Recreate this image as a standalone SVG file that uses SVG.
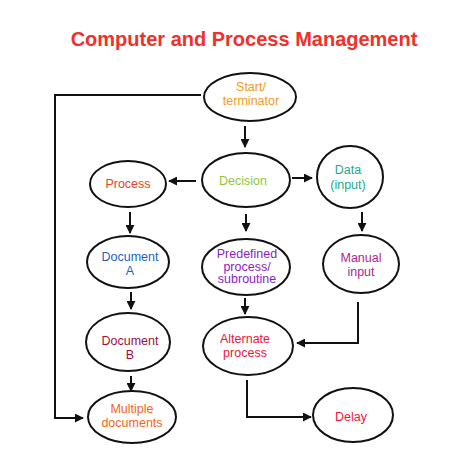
<svg xmlns="http://www.w3.org/2000/svg" width="474" height="474" viewBox="0 0 474 474">
<style>
.n{fill:#fff;stroke:#111;stroke-width:2}
.t{font-family:"Liberation Sans",Arial,sans-serif;font-size:12.5px;text-anchor:middle}
.c{fill:none;stroke:#111;stroke-width:2}
</style>
<defs>
<marker id="a" viewBox="0 0 10 10" refX="9" refY="5" markerWidth="4.5" markerHeight="4.5" orient="auto" markerUnits="strokeWidth">
<path d="M0,0 L10,5 L0,10 z" fill="#111"/>
</marker>
</defs>
<rect width="474" height="474" fill="#fff"/>
<text x="244" y="46" font-family="'Liberation Sans',Arial,sans-serif" font-size="20" font-weight="bold" fill="#f0302a" text-anchor="middle">Computer and Process Management</text>
<g id="connectors">
<path class="c" d="M201,95 H55 V418 H83" marker-end="url(#a)"/>
<path class="c" d="M245,126 V147" marker-end="url(#a)"/>
<path class="c" d="M196,181 H169" marker-end="url(#a)"/>
<path class="c" d="M292,178 H312" marker-end="url(#a)"/>
<path class="c" d="M246,214 V231" marker-end="url(#a)"/>
<path class="c" d="M362,212 V231" marker-end="url(#a)"/>
<path class="c" d="M130,212 V233" marker-end="url(#a)"/>
<path class="c" d="M131,292 V309" marker-end="url(#a)"/>
<path class="c" d="M131,376 V391" marker-end="url(#a)"/>
<path class="c" d="M245,298 V314" marker-end="url(#a)"/>
<path class="c" d="M358,302 V343 H297" marker-end="url(#a)"/>
<path class="c" d="M247,380 V417 H311" marker-end="url(#a)"/>
</g>
<g id="start"><ellipse class="n" cx="250" cy="97" rx="46" ry="24"/><text class="t" x="251" y="91" fill="#f39a1b">Start/</text><text class="t" x="251" y="105" fill="#f39a1b">terminator</text></g>
<g id="decision"><ellipse class="n" cx="246" cy="180" rx="44" ry="27"/><text class="t" x="243" y="185" fill="#8cc63f">Decision</text></g>
<g id="process"><ellipse class="n" cx="128" cy="184" rx="38" ry="23"/><text class="t" x="128" y="188" fill="#e8421f">Process</text></g>
<g id="data"><ellipse class="n" cx="350" cy="177" rx="33" ry="31"/><text class="t" x="348" y="174" fill="#1aaa8c">Data</text><text class="t" x="348" y="189" fill="#1aaa8c">(input)</text></g>
<g id="docA"><ellipse class="n" cx="128" cy="262" rx="41" ry="26"/><text class="t" x="130" y="261" fill="#1f5fbf">Document</text><text class="t" x="130" y="275" fill="#1f5fbf">A</text></g>
<g id="predef"><ellipse class="n" cx="246" cy="267" rx="44" ry="28"/><text class="t" x="247" y="258" fill="#8a1ec0" font-size="11">Predefined</text><text class="t" x="247" y="270.5" fill="#8a1ec0" font-size="11">process/</text><text class="t" x="247" y="283" fill="#8a1ec0" font-size="11">subroutine</text></g>
<g id="manual"><ellipse class="n" cx="361" cy="264" rx="38" ry="29"/><text class="t" x="361" y="262" fill="#b01e8c">Manual</text><text class="t" x="361" y="276" fill="#b01e8c">input</text></g>
<g id="docB"><ellipse class="n" cx="128" cy="342" rx="42" ry="29"/><text class="t" x="130" y="345" fill="#9b1040">Document</text><text class="t" x="130" y="359" fill="#9b1040">B</text></g>
<g id="alternate"><ellipse class="n" cx="248" cy="346" rx="45" ry="29"/><text class="t" x="245" y="343" fill="#e8163c">Alternate</text><text class="t" x="245" y="357" fill="#e8163c">process</text></g>
<g id="multiple"><ellipse class="n" cx="132" cy="417" rx="44" ry="26"/><text class="t" x="132" y="413" fill="#f26522">Multiple</text><text class="t" x="132" y="427" fill="#f26522">documents</text></g>
<g id="delay"><ellipse class="n" cx="353" cy="415" rx="40" ry="27"/><text class="t" x="351" y="421" fill="#e8163c">Delay</text></g>
</svg>
